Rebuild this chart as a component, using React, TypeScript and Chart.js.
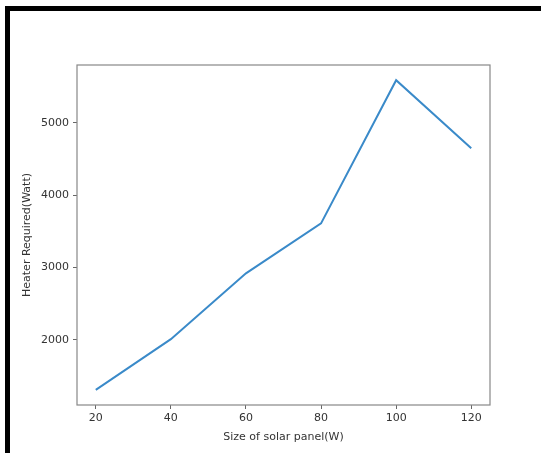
import React, { useEffect, useRef } from "react";
import { Chart, registerables } from "chart.js";

Chart.register(...registerables);

const panelSizes = [20, 40, 60, 80, 100, 120];
const heaterRequired = [1310, 2010, 2920, 3610, 5590, 4650];
const xTickValues = [20, 40, 60, 80, 100, 120];
const yTickValues = [2000, 3000, 4000, 5000];
const xTitle = "Size of solar panel(W)";
const yTitle = "Heater Required(Watt)";

const W = 541;
const H = 453;

const boxPlugin = {
  id: "boxPlugin",
  afterDraw(chart: any) {
    const { ctx, chartArea } = chart;
    ctx.save();
    ctx.strokeStyle = "#888";
    ctx.lineWidth = 1.2;
    ctx.strokeRect(chartArea.left, chartArea.top, chartArea.right - chartArea.left, chartArea.bottom - chartArea.top);
    ctx.restore();
  },
};

export default function App() {
  const ref = useRef<HTMLCanvasElement | null>(null);

  useEffect(() => {
    if (!ref.current) return;
    const font = { family: "'DejaVu Sans', sans-serif", size: 11 };
    const chart = new Chart(ref.current, {
      type: "line",
      data: {
        datasets: [
          {
            data: panelSizes.map((x, i) => ({ x, y: heaterRequired[i] })),
            borderColor: "#3a8ac9",
            borderWidth: 2,
            pointRadius: 0,
            tension: 0,
            fill: false,
          },
        ],
      },
      options: {
        responsive: false,
        animation: false,
        events: [],
        layout: { padding: { left: 0, top: 65, right: W - 490, bottom: 0 } },
        plugins: { legend: { display: false }, tooltip: { enabled: false } },
        scales: {
          x: {
            type: "linear",
            min: 15,
            max: 125,
            afterBuildTicks: (s: any) => {
              s.ticks = xTickValues.map((v) => ({ value: v }));
            },
            afterFit: (s: any) => {
              s.height = H - 405;
            },
            grid: { drawOnChartArea: false, drawTicks: true, tickLength: 4, color: "#666" },
            border: { display: false },
            ticks: { font, color: "#333", padding: 3, maxRotation: 0, autoSkip: false, callback: (v: any) => String(v) },
            title: { display: true, text: xTitle, font, color: "#333", padding: { top: 0, bottom: 9 } },
          },
          y: {
            type: "linear",
            min: 1100,
            max: 5800,
            afterBuildTicks: (s: any) => {
              s.ticks = yTickValues.map((v) => ({ value: v }));
            },
            afterFit: (s: any) => {
              s.width = 77;
            },
            grid: { drawOnChartArea: false, drawTicks: true, tickLength: 4, color: "#666" },
            border: { display: false },
            ticks: { font, color: "#333", padding: 4, autoSkip: false, callback: (v: any) => String(v) },
            title: { display: true, text: yTitle, font, color: "#333", padding: { top: 21, bottom: 0 } },
          },
        },
      },
      plugins: [boxPlugin],
    });
    return () => chart.destroy();
  }, []);

  return (
    <div style={{ position: "absolute", left: 0, top: 0, width: W, height: H, overflow: "hidden", background: "#fff" }}>
      <div
        style={{
          position: "absolute",
          left: 5,
          top: 6,
          width: W + 20,
          height: H + 20,
          borderTop: "5px solid #000",
          borderLeft: "5px solid #000",
          boxSizing: "border-box",
        }}
      />
      <canvas ref={ref} width={W} height={H} style={{ position: "absolute", left: 0, top: 0 }} />
    </div>
  );
}
